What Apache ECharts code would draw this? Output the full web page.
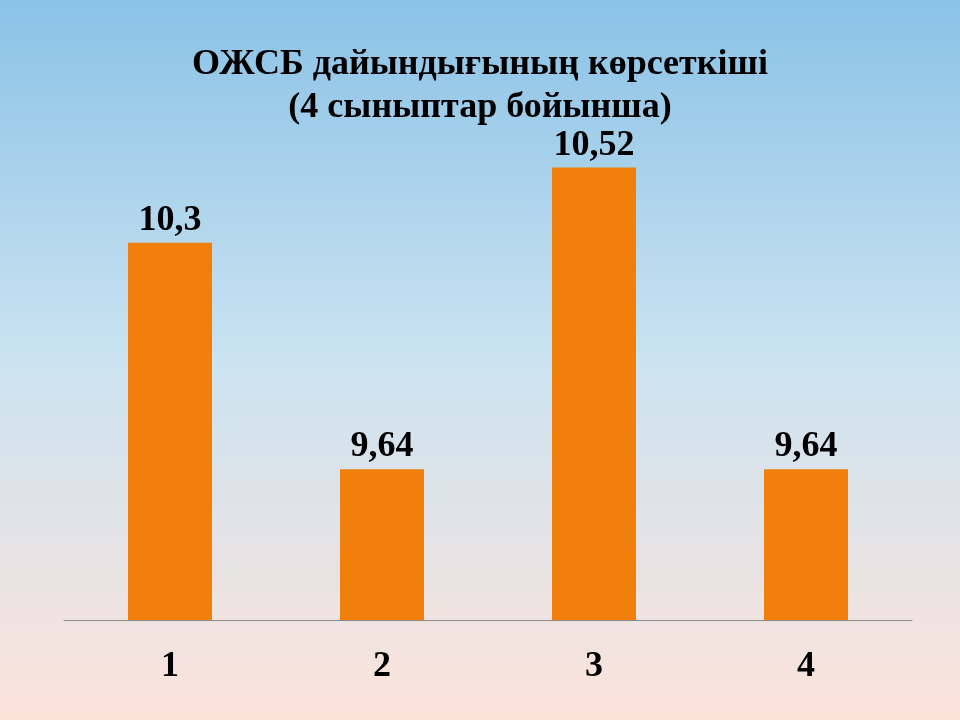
<!DOCTYPE html>
<html><head><meta charset="utf-8">
<script src="https://cdn.jsdelivr.net/npm/echarts@6/dist/echarts.min.js"></script>
<style>html,body{margin:0;padding:0;}#c{width:960px;height:720px;}</style>
</head><body><div id="c"></div>
<script>
const categories = ['1', '2', '3', '4'];
const values = [10.3, 9.64, 10.52, 9.64];
const labelTexts = ['10,3', '9,64', '10,52', '9,64'];
const titleLines = ['ОЖСБ дайындығының көрсеткіші', '(4 сыныптар бойынша)'];

const chart = echarts.init(document.getElementById('c'));
chart.setOption({
  backgroundColor: {
    type: 'linear', x: 0, y: 0, x2: 0, y2: 1,
    colorStops: [
      { offset: 0, color: '#8ac2e6' },
      { offset: 0.5, color: '#cbe3f1' },
      { offset: 1, color: '#fde3da' }
    ]
  },
  title: {
    text: titleLines.join('\n'),
    left: 'center', top: 38,
    textStyle: { fontFamily: 'Liberation Serif', fontWeight: 'bold', fontSize: 36, lineHeight: 43, color: '#000' }
  },
  grid: { left: 64, right: 48, top: 140, bottom: 100 },
  xAxis: {
    type: 'category', data: categories,
    axisLine: { lineStyle: { color: '#8c8c8c', width: 1 } },
    axisTick: { show: false },
    axisLabel: { margin: 29, fontFamily: 'Liberation Serif', fontWeight: 'bold', fontSize: 36, color: '#000' }
  },
  yAxis: {
    type: 'value', min: 9.2, max: 10.6, show: false,
    splitLine: { show: false }
  },
  series: [{
    type: 'bar', data: values, barWidth: 84,
    itemStyle: { color: '#f0800b' },
    label: {
      show: true, position: 'top', distance: 4,
      formatter: p => labelTexts[p.dataIndex],
      fontFamily: 'Liberation Serif', fontWeight: 'bold', fontSize: 36, color: '#000'
    }
  }]
});
</script></body></html>
